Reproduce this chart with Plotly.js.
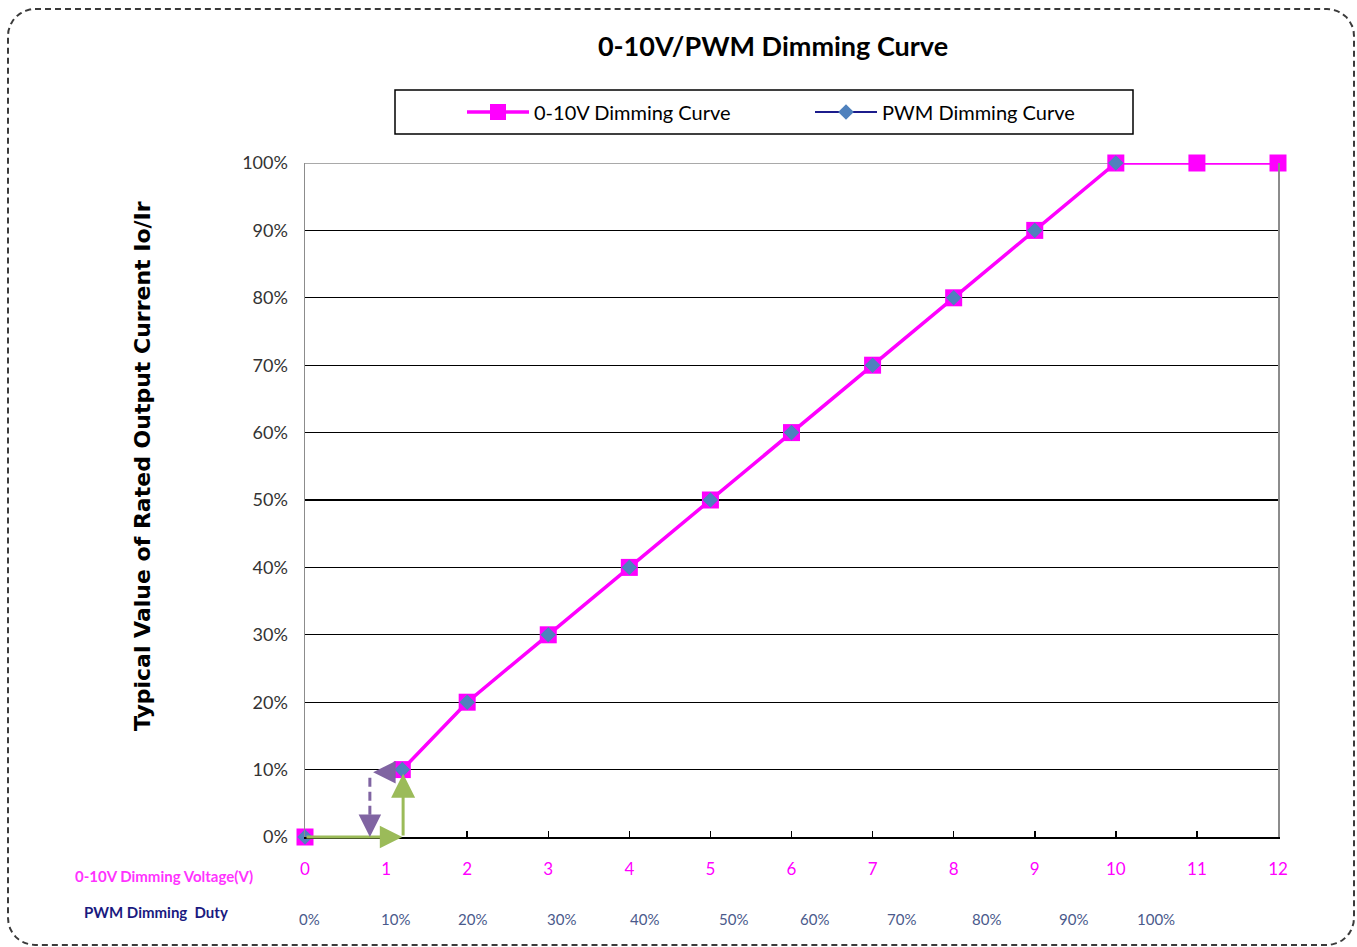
<!DOCTYPE html>
<html>
<head>
<meta charset="utf-8">
<script src="https://cdn.plot.ly/plotly-3.0.1.min.js"></script>
<style>
  html, body { margin: 0; padding: 0; background: #ffffff; overflow: hidden; }
  #chart { position: absolute; left: 0; top: 0; width: 1357px; height: 947px; }
  #frame { position: absolute; left: 7px; top: 8px; width: 1344px; height: 934px;
           border: 2px dashed #3a3a3a; border-radius: 28px; pointer-events: none; }
</style>
</head>
<body>
<div id="chart"></div>
<div id="frame"></div>
<script>
// ---- data (null = break in the drawn line) ----
const voltageX     = [0, null, 1.2, 2, 3, 4, 5, 6, 7, 8, 9, 10, 11, 12];
const voltageLevel = [0, null, 0.10, 0.20, 0.30, 0.40, 0.50, 0.60, 0.70, 0.80, 0.90, 1.00, 1.00, 1.00];
const pwmX         = [0, null, 1.2, 2, 3, 4, 5, 6, 7, 8, 9, 10];
const pwmLevel     = [0, null, 0.10, 0.20, 0.30, 0.40, 0.50, 0.60, 0.70, 0.80, 0.90, 1.00];
const voltageTicks = [0, 1, 2, 3, 4, 5, 6, 7, 8, 9, 10, 11, 12];
const voltageTickText = ['0','1','2','3','4','5','6','7','8','9','10','11','12'];
const dutyLabels   = ['0%','10%','20%','30%','40%','50%','60%','70%','80%','90%','100%'];

// ---- layout helpers (positions, not data) ----
const dutyLabelX = [0.05, 1.12, 2.07, 3.16, 4.19, 5.28, 6.28, 7.36, 8.40, 9.48, 10.49];
const MAGENTA = '#ff00ff', DIAMOND = '#4f81bd', NAVY = '#1c1c8c';
const GREEN = '#9bbb59', PURPLE = '#8064a2';
const FONT = 'Lato, "Open Sans", sans-serif';

const traces = [
  { // PWM series (line lies under the magenta line)
    x: pwmX, y: pwmLevel, type: 'scatter', mode: 'lines+markers', connectgaps: false,
    name: 'PWM Dimming Curve', legendrank: 2, cliponaxis: false,
    line: { color: NAVY, width: 2 },
    marker: { symbol: 'diamond', size: 12, color: DIAMOND }
  },
  { // 0-10V series
    x: voltageX, y: voltageLevel, type: 'scatter', mode: 'lines+markers', connectgaps: false,
    name: '0-10V Dimming Curve', legendrank: 1, cliponaxis: false,
    line: { color: MAGENTA, width: 3.5 },
    marker: { symbol: 'square', size: 17, color: MAGENTA }
  },
  { // PWM diamonds on top
    x: pwmX, y: pwmLevel, type: 'scatter', mode: 'markers',
    showlegend: false, hoverinfo: 'skip', cliponaxis: false,
    marker: { symbol: 'diamond', size: 12, color: DIAMOND }
  }
];

const annotations = [
  // left-side row labels
  { xref: 'paper', yref: 'paper', x: (164 - 305) / 973, y: (837 - 876) / 674,
    text: '<b>0-10V Dimming Voltage(V)</b>', showarrow: false, xanchor: 'center', yanchor: 'middle',
    font: { family: FONT, size: 15, color: '#ff33ff' } },
  { xref: 'paper', yref: 'paper', x: (156 - 305) / 973, y: (837 - 912) / 674,
    text: '<b>PWM Dimming  Duty</b>', showarrow: false, xanchor: 'center', yanchor: 'middle',
    font: { family: FONT, size: 15, color: '#1a1a80' } },
  // y-axis title
  { xref: 'paper', yref: 'paper', x: (142 - 305) / 973, y: (837 - 466) / 674,
    text: '<b>Typical Value of Rated Output Current Io/Ir</b>', textangle: -90, showarrow: false,
    xanchor: 'center', yanchor: 'middle',
    font: { family: 'DejaVu Sans, sans-serif', size: 22, color: '#000000' } },
  // green guide arrows
  { xref: 'x', yref: 'y', axref: 'x', ayref: 'y', x: 1.2, y: 0, ax: 0, ay: 0, text: '',
    showarrow: true, arrowhead: 2, arrowsize: 1.5, arrowwidth: 3, arrowcolor: GREEN, standoff: 0 },
  { xref: 'x', yref: 'y', axref: 'x', ayref: 'y', x: 1.21, y: 0.094, ax: 1.21, ay: 0, text: '',
    showarrow: true, arrowhead: 2, arrowsize: 1.6, arrowwidth: 3, arrowcolor: GREEN, standoff: 0 },
  // purple guide arrows
  { xref: 'x', yref: 'y', axref: 'x', ayref: 'y', x: 0.84, y: 0.096, ax: 1.13, ay: 0.096, text: '',
    showarrow: true, arrowhead: 2, arrowsize: 1.5, arrowwidth: 3, arrowcolor: PURPLE, standoff: 0 },
  { xref: 'x', yref: 'y', axref: 'x', ayref: 'y', x: 0.80, y: 0.0, ax: 0.80, ay: 0.03, text: '',
    showarrow: true, arrowhead: 2, arrowsize: 1.5, arrowwidth: 3, arrowcolor: PURPLE, standoff: 0 }
];

dutyLabels.forEach((t, i) => {
  annotations.push({
    xref: 'x', yref: 'paper', x: dutyLabelX[i], y: (837 - 919) / 674, text: t,
    showarrow: false, xanchor: 'center', yanchor: 'middle',
    font: { family: FONT, size: 15, color: '#4a5a8c' }
  });
});

const shapes = [
  // legend box
  { type: 'rect', xref: 'paper', yref: 'paper',
    x0: (395 - 305) / 973, x1: (1133 - 305) / 973, y0: (837 - 134) / 674, y1: (837 - 90) / 674,
    line: { color: '#000000', width: 1.5 }, fillcolor: 'rgba(0,0,0,0)' },
  // grey top border of the plot area
  { type: 'line', xref: 'x', yref: 'y', x0: 0, x1: 12, y0: 1, y1: 1, layer: 'between',
    line: { color: '#8c8c8c', width: 1.5 } },
  // purple dashed shaft
  { type: 'line', xref: 'x', yref: 'y', x0: 0.80, x1: 0.80, y0: 0.088, y1: 0.025,
    line: { color: PURPLE, width: 3, dash: '9px,5px' } }
];

const layout = {
  width: 1357, height: 947,
  margin: { l: 305, r: 79, t: 163, b: 110 },
  paper_bgcolor: '#ffffff', plot_bgcolor: '#ffffff',
  font: { family: FONT, color: '#000000' },
  title: { text: '<b>0-10V/PWM Dimming Curve</b>', x: 773 / 1357, xanchor: 'center',
           y: 1 - 47 / 947, yanchor: 'middle', font: { family: FONT, size: 27, color: '#000000' } },
  showlegend: true,
  legend: { orientation: 'h', x: (462 - 305) / 973, xanchor: 'left', y: (837 - 112) / 674, yanchor: 'middle',
            bgcolor: 'rgba(0,0,0,0)', borderwidth: 0, itemwidth: 62, entrywidth: 271,
            font: { family: FONT, size: 20, color: '#000000' } },
  xaxis: {
    range: [0, 12], tickmode: 'array', tickvals: voltageTicks, ticktext: voltageTickText,
    showgrid: false, zeroline: false, showline: true, linecolor: '#000000', linewidth: 1.5,
    ticks: 'inside', ticklen: 6, tickwidth: 1.5, tickcolor: '#000000', ticklabelstandoff: 16,
    tickfont: { family: FONT, size: 17, color: MAGENTA }, fixedrange: true
  },
  yaxis: {
    range: [0, 1], dtick: 0.1, tickformat: '.0%',
    showgrid: true, gridcolor: '#000000', gridwidth: 1.3, zeroline: false,
    showline: true, mirror: true, linecolor: '#8c8c8c', linewidth: 1.5,
    ticks: '', ticklabelstandoff: 12,
    tickfont: { family: FONT, size: 18, color: '#333333' }, fixedrange: true
  },
  annotations: annotations,
  shapes: shapes
};

Plotly.newPlot('chart', traces, layout, { displayModeBar: false, staticPlot: true });
</script>
</body>
</html>
